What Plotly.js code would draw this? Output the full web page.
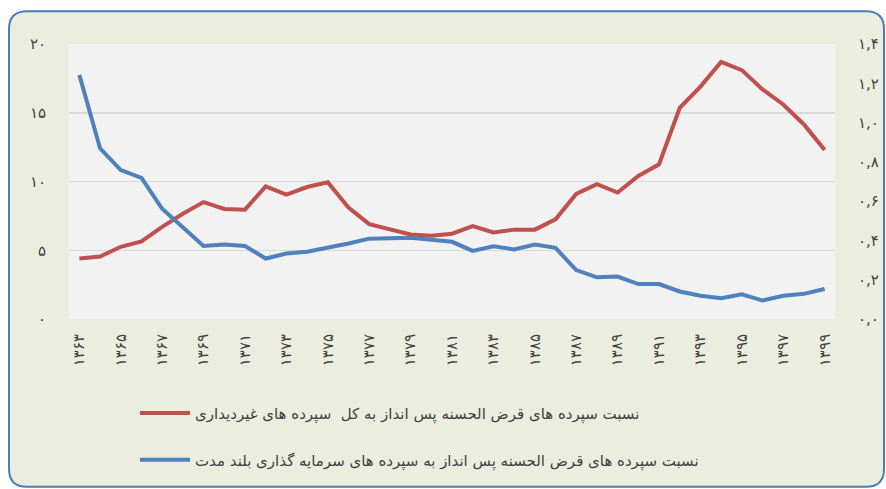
<!DOCTYPE html>
<html>
<head>
<meta charset="utf-8">
<script src="https://cdn.plot.ly/plotly-3.0.1.min.js"></script>
<style>
html,body{margin:0;padding:0;background:#ffffff;}
#chart{width:886px;height:489px;}
</style>
</head>
<body>
<div id="chart"></div>
<script>
// Categories (Persian years)
const years = ["۱۳۶۳","۱۳۶۴","۱۳۶۵","۱۳۶۶","۱۳۶۷","۱۳۶۸","۱۳۶۹","۱۳۷۰","۱۳۷۱","۱۳۷۲","۱۳۷۳","۱۳۷۴","۱۳۷۵","۱۳۷۶","۱۳۷۷","۱۳۷۸","۱۳۷۹","۱۳۸۰","۱۳۸۱","۱۳۸۲","۱۳۸۳","۱۳۸۴","۱۳۸۵","۱۳۸۶","۱۳۸۷","۱۳۸۸","۱۳۸۹","۱۳۹۰","۱۳۹۱","۱۳۹۲","۱۳۹۳","۱۳۹۴","۱۳۹۵","۱۳۹۶","۱۳۹۷","۱۳۹۸","۱۳۹۹"];
const xTickYears = ["۱۳۶۳","۱۳۶۵","۱۳۶۷","۱۳۶۹","۱۳۷۱","۱۳۷۳","۱۳۷۵","۱۳۷۷","۱۳۷۹","۱۳۸۱","۱۳۸۳","۱۳۸۵","۱۳۸۷","۱۳۸۹","۱۳۹۱","۱۳۹۳","۱۳۹۵","۱۳۹۷","۱۳۹۹"];

// Red series (left axis, percent)
const redName = "نسبت سپرده های قرض الحسنه پس انداز به کل  سپرده های غیردیداری";
const redValues = [4.4,4.55,5.25,5.65,6.7,7.65,8.5,8.0,7.95,9.65,9.05,9.6,9.95,8.1,6.9,6.5,6.15,6.05,6.2,6.75,6.3,6.5,6.5,7.25,9.1,9.8,9.2,10.4,11.25,15.35,16.9,18.7,18.1,16.7,15.6,14.15,12.3];

// Blue series (right axis, ratio)
const blueName = "نسبت سپرده های قرض الحسنه پس انداز به سپرده های سرمایه گذاری بلند مدت";
const blueValues = [1.243,0.869,0.758,0.718,0.561,0.468,0.372,0.379,0.372,0.308,0.333,0.342,0.362,0.384,0.409,0.409,0.414,0.404,0.393,0.347,0.370,0.354,0.379,0.362,0.249,0.212,0.216,0.178,0.178,0.140,0.118,0.106,0.126,0.094,0.118,0.128,0.153];

// Axis tick labels
const leftTickVals = [0,5,10,15,20];
const leftTickText = ["۰","۵","۱۰","۱۵","۲۰"];
const rightTickVals = [0,0.2,0.4,0.6,0.8,1.0,1.2,1.4];
const rightTickText = ["۰,۰","۰,۲","۰,۴","۰,۶","۰,۸","۱,۰","۱,۲","۱,۴"];

// layout geometry (pixels)
const W = 886, H = 489;
const mL = 69, mR = 51, mT = 44, mB = 168;
const plotW = W - mL - mR, plotH = H - mT - mB;
const px = v => (v - mL) / plotW;
const py = v => (H - mB - v) / plotH;

function roundedBox(x0, y0, x1, y1, r) {
  const P = (x, y) => px(x) + ',' + py(y);
  return 'M' + P(x0 + r, y0) + ' L' + P(x1 - r, y0) + ' Q' + P(x1, y0) + ' ' + P(x1, y0 + r) +
    ' L' + P(x1, y1 - r) + ' Q' + P(x1, y1) + ' ' + P(x1 - r, y1) +
    ' L' + P(x0 + r, y1) + ' Q' + P(x0, y1) + ' ' + P(x0, y1 - r) +
    ' L' + P(x0, y0 + r) + ' Q' + P(x0, y0) + ' ' + P(x0 + r, y0) + ' Z';
}

const FONT = "DejaVu Sans, Noto Sans, sans-serif";
const textColor = "#404040";

const traces = [
  {
    x: years, y: redValues, name: redName, type: 'scatter', mode: 'lines',
    line: {color: '#C0504D', width: 4}, yaxis: 'y', legend: 'legend', hoverinfo: 'skip'
  },
  {
    x: years, y: blueValues, name: blueName, type: 'scatter', mode: 'lines',
    line: {color: '#4F81BD', width: 4}, yaxis: 'y2', legend: 'legend2', hoverinfo: 'skip'
  }
];

const layout = {
  width: W, height: H,
  margin: {l: mL, r: mR, t: mT, b: mB, pad: 0},
  paper_bgcolor: '#ffffff',
  plot_bgcolor: 'rgba(0,0,0,0)',
  font: {family: FONT, color: textColor, size: 14},
  showlegend: true,
  xaxis: {
    type: 'category', range: [-0.5, years.length - 0.5],
    tickmode: 'array', tickvals: xTickYears, ticktext: xTickYears,
    tickangle: -90, ticks: '', showgrid: false, zeroline: false, showline: false,
    ticklabelstandoff: 11, tickfont: {size: 15, color: textColor, family: FONT}
  },
  yaxis: {
    range: [0, 20], tickmode: 'array', tickvals: leftTickVals, ticktext: leftTickText,
    showgrid: true, gridcolor: '#D9D9D9', gridwidth: 1.5, zeroline: false, showline: false,
    ticks: '', ticklabelstandoff: 22, tickfont: {size: 15, color: textColor, family: FONT}
  },
  yaxis2: {
    range: [0, 1.4], overlaying: 'y', side: 'right',
    tickmode: 'array', tickvals: rightTickVals, ticktext: rightTickText,
    showgrid: false, zeroline: false, showline: false,
    ticks: '', ticklabelstandoff: 22, tickfont: {size: 15, color: textColor, family: FONT}
  },
  legend: {
    x: px(135), y: py(416), xanchor: 'left', yanchor: 'middle',
    bgcolor: 'rgba(0,0,0,0)', font: {size: 15, color: textColor, family: FONT}, itemwidth: 50
  },
  legend2: {
    x: px(135), y: py(463), xanchor: 'left', yanchor: 'middle',
    bgcolor: 'rgba(0,0,0,0)', font: {size: 15, color: textColor, family: FONT}, itemwidth: 50
  },
  shapes: [
    {type: 'path', xref: 'paper', yref: 'paper', layer: 'below',
     path: roundedBox(9, 11, 884, 490, 18),
     fillcolor: '#EBEEDF', line: {color: '#4A7EBB', width: 2}},
    {type: 'rect', xref: 'paper', yref: 'paper', layer: 'below',
     x0: 0, x1: 1, y0: 0, y1: 1, fillcolor: '#F2F2F2', line: {width: 0}}
  ]
};

Plotly.newPlot('chart', traces, layout, {displayModeBar: false, staticPlot: true});
</script>
</body>
</html>
